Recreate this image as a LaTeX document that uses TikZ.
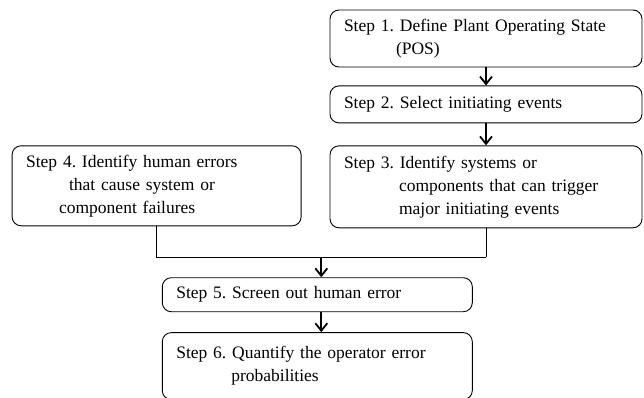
\documentclass[tikz,border=0pt]{standalone}
\usepackage{fontspec}
\setmainfont{Liberation Serif}
\usetikzlibrary{positioning,arrows.meta,calc}
\frenchspacing

\begin{document}
\begin{tikzpicture}[
        x=1pt, y=1pt,
        stepbox/.style={rectangle, draw, line width=0.9pt, rounded corners=9pt,
                        align=left, inner xsep=14pt, inner ysep=2pt,
                        font=\fontsize{17.5}{23}\selectfont},
        line/.style={draw, line width=1.8pt, -{Straight Barb[length=7.5pt,width=12pt]}},
        wire/.style={draw, line width=0.9pt}
    ]
    \useasboundingbox (0,0) rectangle (644,-397);

    \node [stepbox, text width=284pt, minimum height=57pt] (pos) at (486,-38.5)
        {Step 1. Define Plant Operating State\\\hspace*{52pt}(POS)};
    \node [stepbox, text width=284pt, minimum height=37pt, below=18pt of pos] (events)
        {Step 2. Select initiating events};
    \node [stepbox, text width=284pt, minimum height=82pt, below=22pt of events] (systems)
        {Step 3. Identify systems or\\\hspace*{55pt}components that can trigger\\\hspace*{55pt}major initiating events};
    \node [stepbox, text width=261pt, minimum height=80pt, left=28pt of systems.north west, anchor=north east] (human)
        {Step 4. Identify human errors\\\hspace*{43pt}that cause system or\\\hspace*{33pt}component failures};

    \coordinate [below=29pt of systems.south] (sysleg);
    \coordinate (join) at ($(human.south |- sysleg)!0.5!(sysleg)$);

    \node [stepbox, text width=282pt, minimum height=34pt, below=20pt of join, xshift=-4pt] (screen)
        {Step 5. Screen out human error};
    \node [stepbox, text width=282pt, minimum height=67pt, below=20pt of screen] (quantify)
        {Step 6. Quantify the operator error\\\hspace*{55pt}probabilities};

    \draw [line] (pos) -- (events);
    \draw [line] (events) -- (systems);
    \draw [wire] (human.south) |- (sysleg);
    \draw [wire] (systems.south) -- (sysleg);
    \draw [line] (join) -- (join |- screen.north);
    \draw [line] (join |- screen.south) -- (join |- quantify.north);
\end{tikzpicture}
\end{document}
